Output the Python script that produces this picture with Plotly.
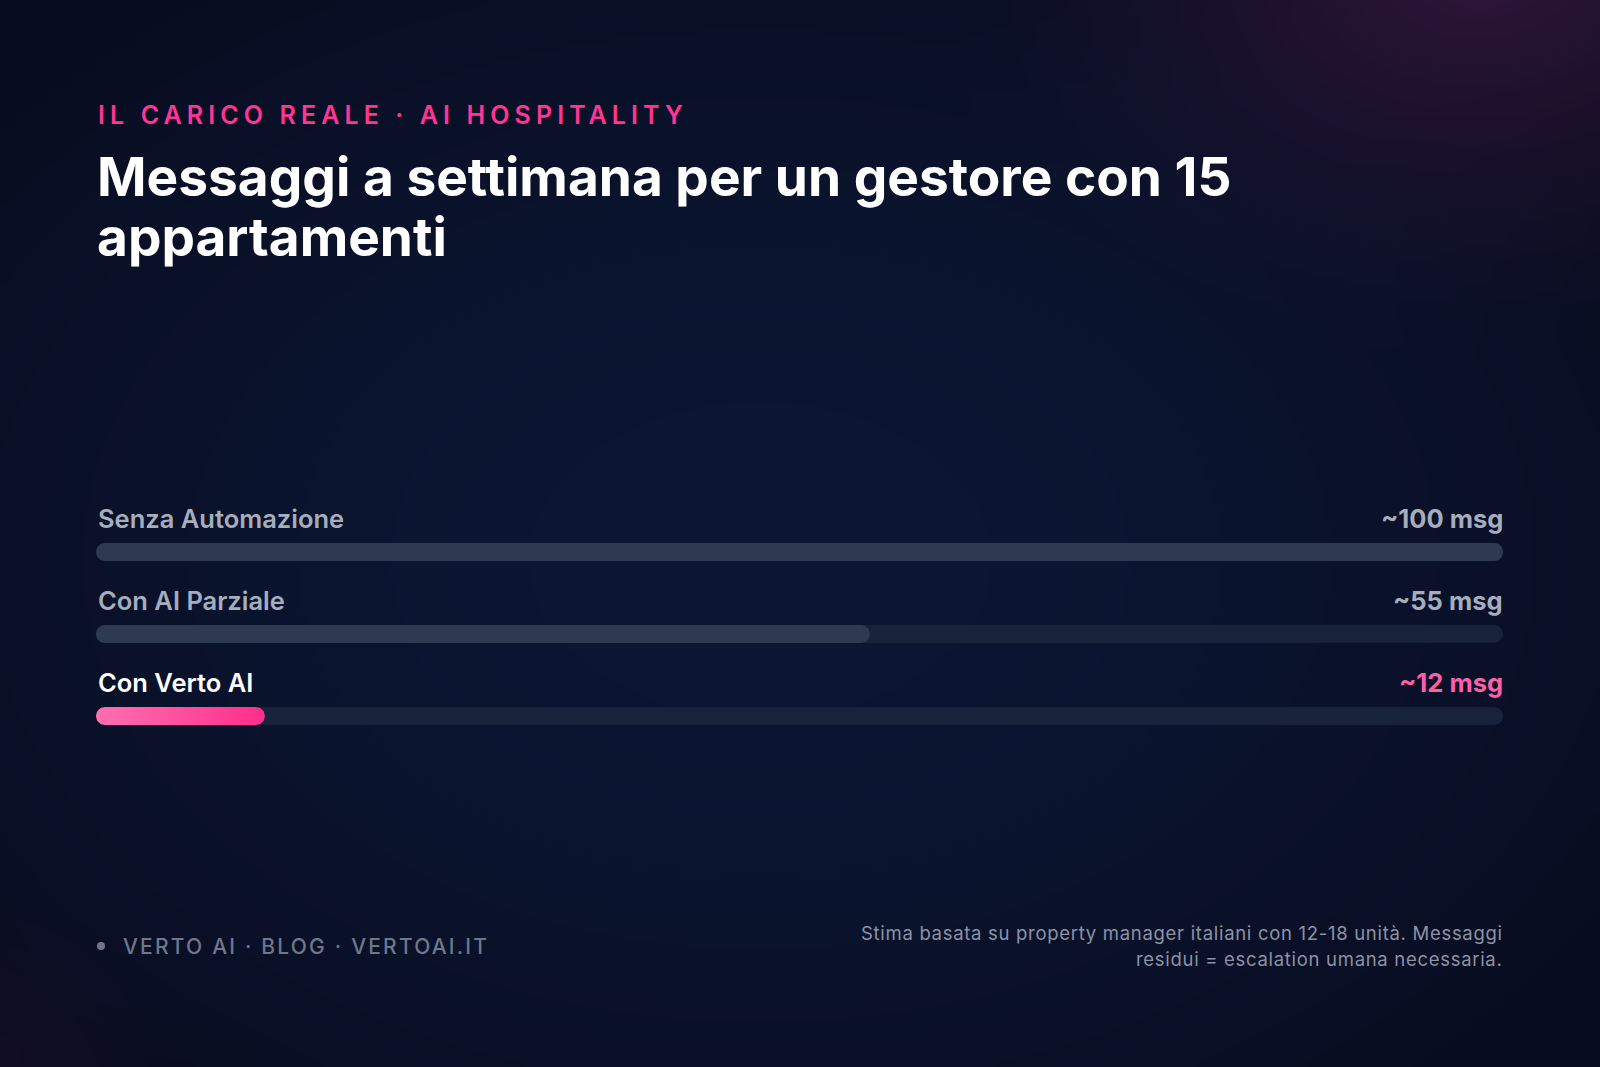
import base64
import struct
import zlib

import numpy as np
import plotly.graph_objects as go

# ---------------- data ----------------
categories = ["Senza Automazione", "Con AI Parziale", "Con Verto AI"]
values = [100, 55, 12]
max_value = 100
unit = "msg"
highlight = "Con Verto AI"

kicker = "IL CARICO REALE · AI HOSPITALITY"
title_lines = ["Messaggi a settimana per un gestore con 15", "appartamenti"]
brand = "VERTO AI · BLOG · VERTOAI.IT"
note_lines = [
    "Stima basata su property manager italiani con 12-18 unità. Messaggi",
    "residui = escalation umana necessaria.",
]

# ---------------- layout constants (pixels) ----------------
FW, FH = 1600, 1067
PL, PR = 96, 1503            # track left / right
ROW0, ROWSTEP = 552, 82      # first bar centre, spacing
BAR_H = 18
PT = ROW0 - ROWSTEP / 2
PB = ROW0 + ROWSTEP * (len(categories) - 1) + ROWSTEP / 2
PW, PH = PR - PL, PB - PT

FONT = "Inter"
C_GRAY = "#a6adbc"
C_PINK = "#ff3593"
C_PINK_LIGHT = "#ff5ea8"
C_TRACK = "#18223b"
C_FILL = "#2e3a52"


def px2x(px):
    return (px - PL) / PW


def py2y(py):
    return (PB - py) / PH


# ---------------- background image (pure python PNG) ----------------
def png_uri(arr):
    h, w, _ = arr.shape
    raw = b"".join(b"\x00" + arr[r].tobytes() for r in range(h))

    def chunk(tag, data):
        return (struct.pack(">I", len(data)) + tag + data
                + struct.pack(">I", zlib.crc32(tag + data) & 0xFFFFFFFF))

    png = (b"\x89PNG\r\n\x1a\n"
           + chunk(b"IHDR", struct.pack(">IIBBBBB", w, h, 8, 2, 0, 0, 0))
           + chunk(b"IDAT", zlib.compress(raw, 9))
           + chunk(b"IEND", b""))
    return "data:image/png;base64," + base64.b64encode(png).decode()


bw, bh = 400, 267
yy, xx = np.mgrid[0:bh, 0:bw].astype(float)
u = xx / (bw - 1) * FW
v = yy / (bh - 1) * FH
c0 = np.array([12, 23, 52], float)
c1 = np.array([8, 12, 31], float)
d = np.clip(np.sqrt(((u - 760) / 1050) ** 2 + ((v - 560) / 720) ** 2), 0, 1) ** 1.6
col = c0 + (c1 - c0) * d[..., None]
g = np.clip(1 - np.sqrt(((u - 1480) * 0.9) ** 2 + ((v + 40) * 1.25) ** 2) / 500, 0, 1) ** 1.4
col = col + (np.array([50, 22, 58], float) - col) * (g[..., None] * 1.0)
g2 = np.clip(1 - np.sqrt((u + 40) ** 2 + (v - 1110) ** 2) / 320, 0, 1) ** 2
col = col + (np.array([32, 16, 44], float) - col) * (g2[..., None] * 0.65)
bg_uri = png_uri(np.clip(col, 0, 255).astype(np.uint8))


# ---------------- bars ----------------
def rounded_bar(value, row):
    rx = (BAR_H / 2) / (PW / max_value)
    ry = (BAR_H / 2) / ROWSTEP
    t_r = np.linspace(-np.pi / 2, np.pi / 2, 24)
    t_l = np.linspace(np.pi / 2, 3 * np.pi / 2, 24)
    xs = np.concatenate([value - rx + rx * np.cos(t_r), rx + rx * np.cos(t_l)])
    ys = np.concatenate([row + ry * np.sin(t_r), row + ry * np.sin(t_l)])
    return np.append(xs, xs[0]), np.append(ys, ys[0])


fig = go.Figure()
for i, cat in enumerate(categories):
    tx, ty = rounded_bar(max_value, i)
    fig.add_trace(go.Scatter(x=tx, y=ty, mode="lines", fill="toself",
                             fillcolor=C_TRACK, line=dict(width=0),
                             hoverinfo="skip", showlegend=False))
for i, (cat, val) in enumerate(zip(categories, values)):
    bx, by = rounded_bar(val, i)
    kw = dict(fillcolor=C_FILL)
    if cat == highlight:
        kw = dict(fillgradient=dict(type="horizontal",
                                    colorscale=[[0, "#ff6fb0"], [1, "#ff2e8e"]]))
    fig.add_trace(go.Scatter(x=bx, y=by, mode="lines", fill="toself",
                             line=dict(width=0), name=cat,
                             hoverinfo="skip", showlegend=False, **kw))

# ---------------- annotations ----------------
ann = []


def text(t, px, baseline, size, color, weight=400, xanchor="left", align="left",
         spacing=None, xshift=0):
    asc = 0.969
    top = baseline - asc * size - 1
    if spacing:
        t = f'<span style="letter-spacing:{spacing}px">{t}</span>'
    ann.append(dict(text=t, x=px2x(px), y=py2y(top), xref="paper", yref="paper",
                    xanchor=xanchor, yanchor="top", align=align, showarrow=False,
                    xshift=xshift,
                    font=dict(family=FONT, size=size, color=color, weight=weight)))


text(kicker, 96, 123, 25, C_PINK, 600, spacing=5.1)
for k, line in enumerate(title_lines):
    text(line, 95, 195 + 60 * k, 53.2, "#ffffff", 700)

for i, (cat, val) in enumerate(zip(categories, values)):
    base = ROW0 + i * ROWSTEP - 25
    hl = cat == highlight
    text(cat, 96, base, 25.5, "#ffffff" if hl else C_GRAY, 600)
    text(f"~{val} {unit}", PR, base, 25.5, C_PINK_LIGHT if hl else C_GRAY, 700,
         xanchor="right", align="right", xshift=2)

text(brand, 121, 953, 21, "#6f778b", 500, spacing=2.2)
for k, line in enumerate(note_lines):
    text(line, PR, 939 + 26 * k, 18.5, "#8b93a6", 400, xanchor="right",
         align="right", spacing=0.7, xshift=2)

shapes = [dict(type="circle", xref="paper", yref="paper",
               x0=px2x(97), x1=px2x(105), y0=py2y(942), y1=py2y(950),
               fillcolor="#6f778b", line=dict(width=0))]

fig.update_layout(
    width=FW, height=FH,
    margin=dict(l=PL, r=FW - PR, t=PT, b=FH - PB, pad=0),
    paper_bgcolor="#0b1430", plot_bgcolor="rgba(0,0,0,0)",
    xaxis=dict(range=[0, max_value], visible=False, fixedrange=True),
    yaxis=dict(range=[len(categories) - 0.5, -0.5], visible=False, fixedrange=True),
    annotations=ann, shapes=shapes,
    images=[dict(source=bg_uri, xref="paper", yref="paper",
                 x=px2x(0), y=py2y(0), sizex=FW / PW, sizey=FH / PH,
                 xanchor="left", yanchor="top", sizing="stretch", layer="below")],
    showlegend=False,
)

fig.write_html("out.html", config=dict(displayModeBar=False, staticPlot=True),
               post_script="document.body.style.margin='0';document.body.style.overflow='hidden';")
